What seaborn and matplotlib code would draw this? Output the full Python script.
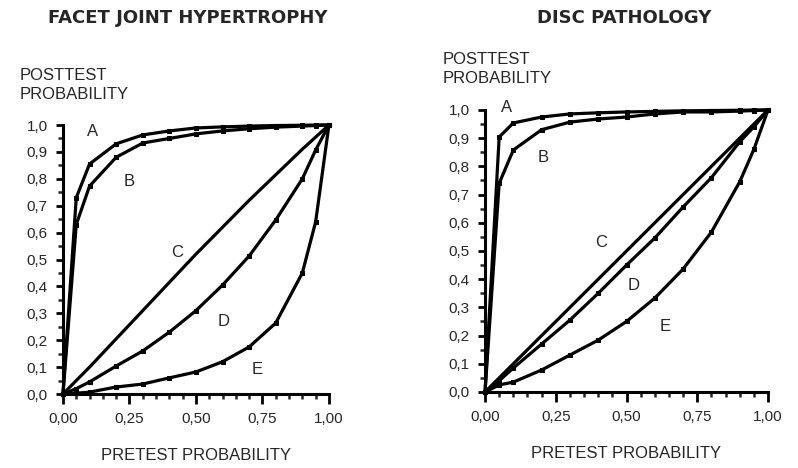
import matplotlib
matplotlib.use("Agg")
import matplotlib.pyplot as plt
from matplotlib.ticker import MultipleLocator, FuncFormatter
import pandas as pd
import seaborn as sns

sns.set_style("ticks")
plt.rcParams['font.family'] = ['Liberation Sans', 'DejaVu Sans']

# pretest probabilities (x) shared by every curve
pretest = [0, 0.05, 0.1, 0.2, 0.3, 0.4, 0.5, 0.6, 0.7, 0.8, 0.9, 0.95, 1.0]

# facet joint hypertrophy, posttest probabilities
facet_a = [0, 0.73, 0.855, 0.93, 0.963, 0.978, 0.989, 0.993, 0.996, 0.998, 0.999, 1.0, 1.0]
facet_b = [0, 0.63, 0.773, 0.88, 0.933, 0.95, 0.967, 0.978, 0.986, 0.992, 0.996, 0.998, 1.0]
facet_c = [0, 0.05, 0.10, 0.205, 0.31, 0.415, 0.52, 0.62, 0.72, 0.815, 0.91, 0.955, 1.0]
facet_d = [0, 0.02, 0.045, 0.104, 0.16, 0.23, 0.31, 0.405, 0.513, 0.647, 0.80, 0.907, 1.0]
facet_e = [0, 0.003, 0.007, 0.026, 0.037, 0.06, 0.082, 0.12, 0.175, 0.264, 0.45, 0.64, 1.0]

# disc pathology, posttest probabilities
disc_a = [0, 0.904, 0.954, 0.975, 0.986, 0.99, 0.993, 0.995, 0.997, 0.998, 0.999, 1.0, 1.0]
disc_b = [0, 0.74, 0.858, 0.93, 0.957, 0.968, 0.975, 0.986, 0.993, 0.993, 0.996, 0.998, 1.0]
disc_c = [0, 0.05, 0.10, 0.20, 0.30, 0.40, 0.50, 0.60, 0.70, 0.80, 0.90, 0.95, 1.0]
disc_d = [0, 0.04, 0.085, 0.17, 0.255, 0.35, 0.45, 0.546, 0.656, 0.76, 0.887, 0.94, 1.0]
disc_e = [0, 0.025, 0.035, 0.078, 0.131, 0.184, 0.25, 0.333, 0.436, 0.567, 0.745, 0.86, 1.0]

curve_names = ["A", "B", "C", "D", "E"]
panel_titles = ["FACET JOINT HYPERTROPHY", "DISC PATHOLOGY"]


def make_frame(curves):
    rows = []
    for name, ys in zip(curve_names, curves):
        for x, y in zip(pretest, ys):
            rows.append({"curve": name, "pretest": x, "posttest": y})
    return pd.DataFrame(rows)


facet_df = make_frame([facet_a, facet_b, facet_c, facet_d, facet_e])
disc_df = make_frame([disc_a, disc_b, disc_c, disc_d, disc_e])

fig = plt.figure(figsize=(7.98, 4.68), dpi=100)
ax1 = fig.add_axes([0.0789, 0.1581, 0.3333, 0.5748])
ax2 = fig.add_axes([0.6078, 0.1624, 0.3546, 0.6026])

# where to put the curve letters (data coords)
facet_labels = {"A": (0.11, 0.975), "B": (0.25, 0.79), "C": (0.43, 0.525),
                "D": (0.605, 0.268), "E": (0.73, 0.09)}
disc_labels = {"A": (0.075, 1.01), "B": (0.205, 0.83), "C": (0.41, 0.53),
               "D": (0.526, 0.376), "E": (0.636, 0.234)}

markers = {"A": "s", "B": "s", "C": None, "D": "s", "E": "s"}

for ax, df, labels in [(ax1, facet_df, facet_labels), (ax2, disc_df, disc_labels)]:
    for name in curve_names:
        sub = df[df.curve == name]
        sns.lineplot(data=sub, x="pretest", y="posttest", ax=ax, color="black",
                     lw=2.3, marker=markers[name], markersize=3.2,
                     markeredgecolor="black", clip_on=False, estimator=None)
        lx, ly = labels[name]
        ax.text(lx, ly, name, fontsize=12, ha="center", va="center")

    ax.set_xlim(0, 1)
    ax.set_ylim(0, 1)
    ax.xaxis.set_major_locator(MultipleLocator(0.25))
    ax.xaxis.set_minor_locator(MultipleLocator(0.05))
    ax.yaxis.set_major_locator(MultipleLocator(0.1))
    ax.yaxis.set_minor_locator(MultipleLocator(0.05))
    ax.xaxis.set_major_formatter(FuncFormatter(lambda v, p: f"{v:.2f}".replace(".", ",")))
    ax.yaxis.set_major_formatter(FuncFormatter(lambda v, p: f"{v:.1f}".replace(".", ",")))
    ax.tick_params(axis="both", which="major", direction="out", width=2,
                   labelsize=11, color="black")
    ax.tick_params(axis="x", which="major", length=7, pad=6)
    ax.tick_params(axis="y", which="major", length=5, pad=6)
    ax.tick_params(axis="both", which="minor", direction="out", width=1.8, length=3.5)
    sns.despine(ax=ax)
    for s in ["left", "bottom"]:
        ax.spines[s].set_linewidth(2.2)
        ax.spines[s].set_color("black")
    ax.set_xlabel("PRETEST PROBABILITY", fontsize=12, labelpad=16)
    ax.set_ylabel("")

fig.text(0.235, 0.962, panel_titles[0], fontsize=13, fontweight="bold",
         family="DejaVu Sans", ha="center", va="center")
fig.text(0.782, 0.962, panel_titles[1], fontsize=13, fontweight="bold",
         family="DejaVu Sans", ha="center", va="center")
fig.text(0.025, 0.818, "POSTTEST\nPROBABILITY", fontsize=12, ha="left",
         va="center", linespacing=1.35)
fig.text(0.555, 0.852, "POSTTEST\nPROBABILITY", fontsize=12, ha="left",
         va="center", linespacing=1.35)

fig.savefig("out.png", dpi=100, facecolor="white")
